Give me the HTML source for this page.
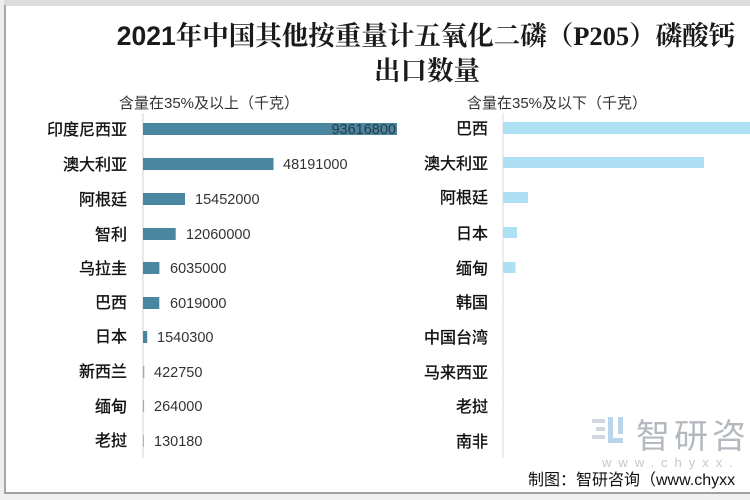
<!DOCTYPE html>
<html><head><meta charset="utf-8">
<style>
html,body{margin:0;padding:0;background:#fff;}
svg{display:block;}
.t{font-family:"Liberation Serif","Noto Serif CJK SC",serif;font-weight:bold;fill:#1a1a1a;}
.lab{font-family:"Liberation Sans","Noto Sans CJK SC",sans-serif;font-size:16px;fill:#111;text-anchor:end;stroke:#111;stroke-width:0.35px;}
.val{font-family:"Liberation Sans","Noto Sans CJK SC",sans-serif;font-size:14.5px;fill:#333;}
.sub{font-family:"Liberation Sans","Noto Sans CJK SC",sans-serif;font-size:15px;fill:#333;}
</style></head>
<body>
<svg width="750" height="500" viewBox="0 0 750 500" xmlns="http://www.w3.org/2000/svg">
<rect x="0" y="0" width="750" height="500" fill="#fff"/>
<!-- frame -->
<rect x="0" y="0" width="750" height="6" fill="#dcdcdc"/>
<rect x="0" y="0" width="4" height="500" fill="#eee"/>
<rect x="4" y="5" width="2" height="490" fill="#a8a8a8"/>
<rect x="4" y="492" width="746" height="2" fill="#a0a0a0"/>
<rect x="0" y="494" width="750" height="6" fill="#f0f0f0"/>

<!-- title -->
<text class="t" x="426" y="45" font-size="26.5" text-anchor="middle"><tspan font-family="Liberation Sans">2021</tspan>年中国其他按重量计五氧化二磷（P205）磷酸钙</text>
<text class="t" x="427" y="80" font-size="26.5" text-anchor="middle">出口数量</text>

<text class="sub" x="119" y="108">含量在35%及以上（千克）</text>
<text class="sub" x="467" y="108">含量在35%及以下（千克）</text>

<!-- left axis -->
<line x1="143" y1="113" x2="143" y2="458" stroke="#e2e2e2" stroke-width="1.5"/>
<g fill="#4a86a0">
<rect x="143" y="123" width="254" height="12"/>
<rect x="143" y="158" width="130.5" height="12"/>
<rect x="143" y="193" width="42" height="12"/>
<rect x="143" y="228" width="32.7" height="12"/>
<rect x="143" y="262" width="16.4" height="12"/>
<rect x="143" y="297" width="16.3" height="12"/>
<rect x="143" y="331" width="4.2" height="12"/>
<rect x="143" y="366" width="1.3" height="12" fill="#8fb0c0"/>
<rect x="143" y="400" width="1.1" height="12" fill="#8fb0c0"/>
<rect x="143" y="435" width="1" height="12" fill="#9dbac8"/>
</g>
<g class="lab">
<text x="127" y="135">印度尼西亚</text>
<text x="127" y="170">澳大利亚</text>
<text x="127" y="205">阿根廷</text>
<text x="127" y="240">智利</text>
<text x="127" y="274">乌拉圭</text>
<text x="127" y="308">巴西</text>
<text x="127" y="342">日本</text>
<text x="127" y="377">新西兰</text>
<text x="127" y="412">缅甸</text>
<text x="127" y="446">老挝</text>
</g>
<g class="val">
<text x="396" y="134" text-anchor="end" fill="#2a3a44">93616800</text>
<text x="283" y="169">48191000</text>
<text x="195" y="204">15452000</text>
<text x="186" y="239">12060000</text>
<text x="170" y="273">6035000</text>
<text x="170" y="308">6019000</text>
<text x="157" y="342">1540300</text>
<text x="154" y="377">422750</text>
<text x="154" y="411">264000</text>
<text x="154" y="446">130180</text>
</g>

<!-- right axis -->
<line x1="503" y1="113" x2="503" y2="458" stroke="#e6e6e6" stroke-width="1.5"/>
<g fill="#aee0f4">
<rect x="503" y="122" width="260" height="12"/>
<rect x="503" y="157" width="201" height="11"/>
<rect x="503" y="192" width="25" height="11"/>
<rect x="503" y="227" width="14" height="11"/>
<rect x="503" y="262" width="12.5" height="11"/>
<rect x="503" y="296" width="1" height="11" fill="#d6eef8"/>
<rect x="503" y="331" width="1" height="11" fill="#d6eef8"/>
<rect x="503" y="366" width="1" height="11" fill="#d6eef8"/>
<rect x="503" y="400" width="1" height="11" fill="#d6eef8"/>
<rect x="503" y="435" width="1" height="11" fill="#d6eef8"/>
</g>
<g class="lab">
<text x="488" y="134">巴西</text>
<text x="488" y="169">澳大利亚</text>
<text x="488" y="203">阿根廷</text>
<text x="488" y="239">日本</text>
<text x="488" y="274">缅甸</text>
<text x="488" y="308">韩国</text>
<text x="488" y="343">中国台湾</text>
<text x="488" y="378">马来西亚</text>
<text x="488" y="412">老挝</text>
<text x="488" y="447">南非</text>
</g>

<!-- watermark -->
<g opacity="0.8">
<rect x="592" y="419" width="13" height="4" fill="#c4ccd6"/>
<rect x="596" y="427" width="9" height="4" fill="#c4ccd6"/>
<rect x="592" y="435" width="13" height="4" fill="#c4ccd6"/>
<rect x="608" y="417" width="5" height="26" fill="#a8cbe8"/>
<rect x="608" y="438" width="15" height="5" fill="#a8cbe8"/>
<rect x="618" y="417" width="5" height="17" fill="#a8cbe8"/>
</g>
<text x="636" y="448" style="font-family:'Liberation Sans','Noto Sans CJK SC',sans-serif;font-size:34px;letter-spacing:4px" fill="#b4b9c0">智研咨</text>
<text x="602" y="467" style="font-family:'Liberation Sans',sans-serif;font-size:13px;letter-spacing:7px" fill="#c4c8cc">www.chyxx.</text>
<text x="528" y="485" style="font-family:'Liberation Sans','Noto Sans CJK SC',sans-serif;font-size:16px" fill="#111">制图：智研咨询（www.chyxx</text>
</svg>
</body></html>
